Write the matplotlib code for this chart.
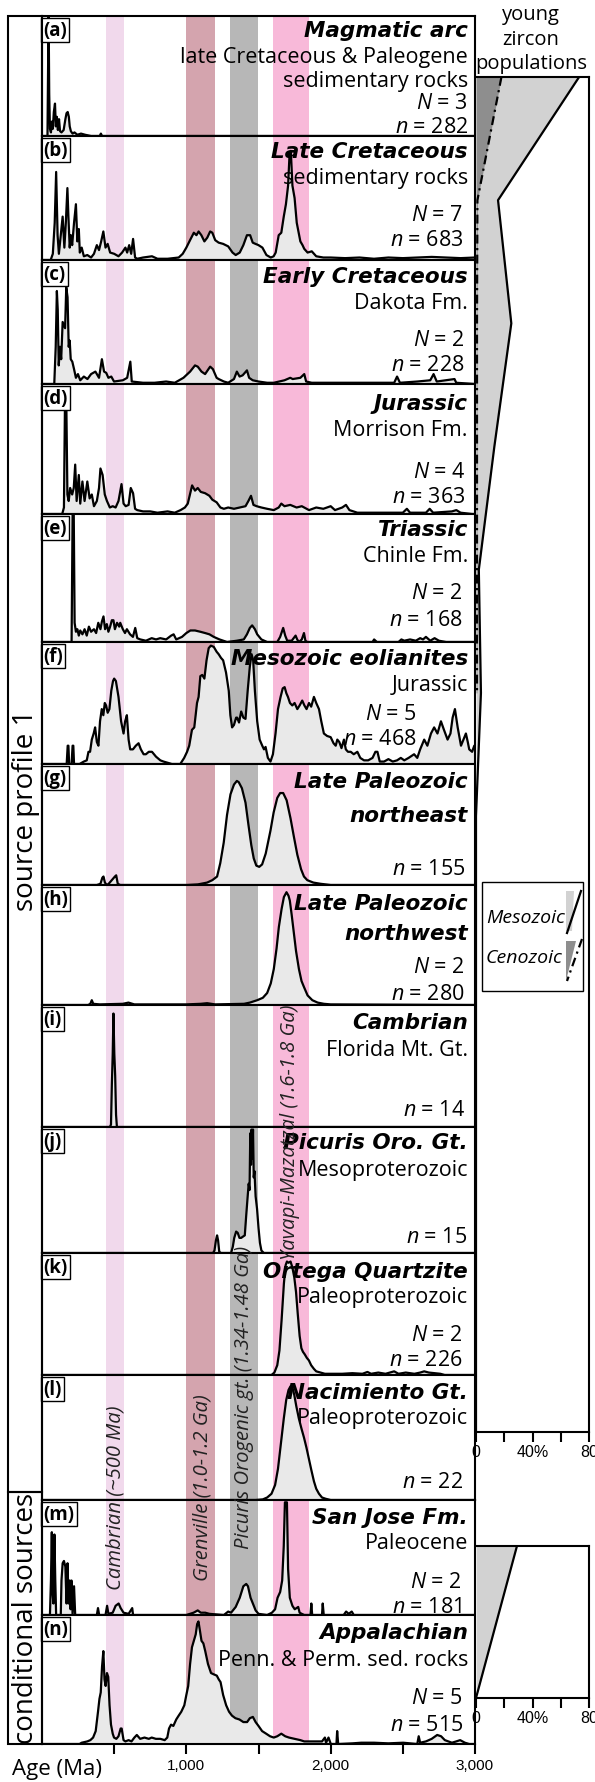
import matplotlib
matplotlib.use("Agg")
import matplotlib.pyplot as plt
from matplotlib.patches import Rectangle, Polygon

plt.rcParams['font.family'] = ['Open Sans', 'DejaVu Sans']
plt.rcParams['mathtext.fontset'] = 'custom'
plt.rcParams['mathtext.rm'] = 'Open Sans'
plt.rcParams['mathtext.it'] = 'Open Sans:italic'

# ---------------------------------------------------------------------------
# Data (age in Ma, relative probability 0-1 per panel)
# ---------------------------------------------------------------------------
panel_ids = ['a', 'b', 'c', 'd', 'e', 'f', 'g', 'h', 'i', 'j', 'k', 'l', 'm', 'n']

titles = [["Magmatic arc"], ["Late Cretaceous"], ["Early Cretaceous"], ["Jurassic"],
          ["Triassic"], ["Mesozoic eolianites"], ["Late Paleozoic", "northeast"],
          ["Late Paleozoic", "northwest"], ["Cambrian"], ["Picuris Oro. Gt."],
          ["Ortega Quartzite"], ["Nacimiento Gt."], ["San Jose Fm."], ["Appalachian"]]
subtitles = [["late Cretaceous & Paleogene", "sedimentary rocks"], ["sedimentary rocks"],
             ["Dakota Fm."], ["Morrison Fm."], ["Chinle Fm."], ["Jurassic"], [], [],
             ["Florida Mt. Gt."], ["Mesoproterozoic"], ["Paleoproterozoic"],
             ["Paleoproterozoic"], ["Paleocene"], ["Penn. & Perm. sed. rocks"]]
N_counts = [3, 7, 2, 4, 2, 5, None, 2, None, None, 2, None, 2, 5]
n_counts = [282, 683, 228, 363, 168, 468, 155, 280, 14, 15, 226, 22, 181, 515]

band_names = ["Cambrian (~500 Ma)", "Grenville (1.0-1.2 Ga)",
              "Picuris Orogenic gt. (1.34-1.48 Ga)", "Yavapi-Mazatzal (1.6-1.8 Ga)"]
band_lo = [440, 1000, 1300, 1600]
band_hi = [570, 1200, 1500, 1850]

magmatic_arc = [(0, 0), (38, 0), (42, 0.55), (46, 1.0), (50, 0.35), (55, 0.06), (62, 0.03),
                (68, 0.12), (75, 0.06), (82, 0.2), (90, 0.27), (96, 0.08), (103, 0.16),
                (110, 0.05), (118, 0.14), (125, 0.04), (135, 0.03), (150, 0.05), (162, 0.14),
                (170, 0.19), (178, 0.2), (186, 0.16), (192, 0.08), (200, 0.04), (212, 0.02),
                (225, 0.03), (245, 0.01), (270, 0.02), (300, 0.01), (340, 0), (400, 0),
                (408, 0.02), (416, 0), (500, 0), (3000, 0)]
late_cretaceous = [(0, 0), (60, 0), (75, 0.05), (88, 0.3), (98, 0.71), (108, 0.2), (117, 0.05),
                   (130, 0.2), (143, 0.35), (155, 0.1), (165, 0.3), (176, 0.58), (183, 0.35),
                   (192, 0.1), (200, 0.2), (209, 0.12), (222, 0.3), (235, 0.45), (245, 0.15),
                   (255, 0.25), (262, 0.06), (275, 0.1), (290, 0.03), (314, 0.04), (340, 0.02),
                   (360, 0.05), (380, 0.12), (395, 0.08), (410, 0.15), (425, 0.23), (440, 0.1),
                   (455, 0.13), (472, 0.06), (500, 0.05), (530, 0.03), (555, 0.06), (578, 0.1),
                   (590, 0.06), (604, 0.12), (618, 0.05), (631, 0.17), (645, 0.02), (660, 0.01),
                   (700, 0.02), (762, 0.03), (800, 0.01), (870, 0.01), (947, 0.02), (975, 0.05),
                   (1000, 0.1), (1030, 0.17), (1052, 0.22), (1070, 0.2), (1085, 0.23),
                   (1104, 0.2), (1125, 0.15), (1145, 0.18), (1165, 0.23), (1180, 0.22),
                   (1200, 0.16), (1224, 0.14), (1255, 0.13), (1290, 0.11), (1320, 0.06),
                   (1342, 0.04), (1370, 0.06), (1395, 0.12), (1420, 0.2), (1442, 0.2),
                   (1460, 0.14), (1479, 0.13), (1500, 0.12), (1527, 0.1), (1555, 0.04),
                   (1585, 0.02), (1605, 0.03), (1619, 0.06), (1640, 0.2), (1658, 0.22),
                   (1675, 0.35), (1690, 0.45), (1705, 0.6), (1715, 0.85), (1724, 0.88),
                   (1735, 0.6), (1750, 0.5), (1765, 0.3), (1790, 0.15), (1805, 0.12),
                   (1817, 0.09), (1840, 0.06), (1869, 0.07), (1900, 0.03), (1949, 0.02),
                   (2000, 0.02), (2100, 0.015), (2200, 0.02), (2300, 0.01), (2400, 0.02),
                   (2500, 0.015), (2600, 0.02), (2700, 0.025), (2800, 0.02), (2900, 0.015),
                   (3000, 0.02)]
early_cretaceous = [(0, 0), (85, 0), (95, 0.3), (103, 0.75), (109, 0.6), (116, 0.15), (125, 0.3),
                    (133, 0.2), (143, 0.5), (160, 0.45), (168, 0.78), (177, 0.7), (185, 0.3),
                    (192, 0.35), (199, 0.2), (210, 0.18), (222, 0.12), (235, 0.05), (249, 0.08),
                    (265, 0.03), (290, 0.06), (315, 0.04), (340, 0.08), (370, 0.1), (395, 0.05),
                    (415, 0.2), (430, 0.1), (445, 0.09), (460, 0.05), (480, 0.06), (499, 0.02),
                    (560, 0.03), (590, 0.05), (612, 0.18), (622, 0.02), (700, 0.01), (780, 0.01),
                    (860, 0.02), (920, 0.01), (980, 0.05), (1026, 0.1), (1060, 0.15),
                    (1079, 0.14), (1105, 0.1), (1130, 0.08), (1165, 0.14), (1184, 0.12),
                    (1210, 0.05), (1224, 0.04), (1260, 0.02), (1290, 0.01), (1330, 0.04),
                    (1350, 0.1), (1369, 0.06), (1390, 0.07), (1420, 0.11), (1435, 0.05),
                    (1460, 0.03), (1500, 0.02), (1560, 0.01), (1606, 0.01), (1680, 0.03),
                    (1720, 0.05), (1737, 0.04), (1790, 0.05), (1817, 0.08), (1830, 0.02),
                    (1869, 0.01), (1950, 0.01), (2100, 0.01), (2300, 0.01), (2440, 0.01),
                    (2460, 0.06), (2480, 0.01), (2600, 0.02), (2690, 0.03), (2713, 0.08),
                    (2735, 0.02), (2858, 0.04), (2870, 0.01), (3000, 0)]
jurassic = [(0, 0), (140, 0), (152, 0.05), (160, 0.95), (168, 0.9), (176, 0.15), (185, 0.1),
            (195, 0.2), (209, 0.15), (220, 0.2), (230, 0.38), (240, 0.1), (255, 0.3), (265, 0.08),
            (280, 0.25), (295, 0.1), (314, 0.25), (330, 0.12), (345, 0.15), (360, 0.06),
            (380, 0.1), (395, 0.2), (405, 0.35), (420, 0.3), (435, 0.15), (450, 0.1), (470, 0.05),
            (490, 0.06), (510, 0.05), (530, 0.1), (551, 0.23), (565, 0.08), (580, 0.06),
            (600, 0.07), (615, 0.2), (631, 0.16), (645, 0.04), (660, 0.03), (700, 0.02),
            (750, 0.02), (800, 0.01), (870, 0.02), (920, 0.01), (960, 0.03), (990, 0.05),
            (1010, 0.08), (1040, 0.22), (1060, 0.18), (1079, 0.2), (1100, 0.17), (1130, 0.16),
            (1160, 0.14), (1180, 0.11), (1210, 0.09), (1236, 0.05), (1260, 0.04), (1290, 0.05),
            (1330, 0.04), (1370, 0.05), (1410, 0.06), (1430, 0.1), (1448, 0.14), (1465, 0.07),
            (1487, 0.06), (1520, 0.05), (1560, 0.04), (1606, 0.03), (1640, 0.05), (1658, 0.08),
            (1680, 0.06), (1720, 0.07), (1764, 0.05), (1800, 0.06), (1850, 0.03), (1900, 0.05),
            (1949, 0.04), (2000, 0.06), (2030, 0.03), (2080, 0.05), (2106, 0.07), (2130, 0.03),
            (2185, 0.01), (2300, 0.01), (2500, 0.01), (2528, 0.04), (2550, 0.01), (2660, 0.01),
            (2686, 0.04), (2710, 0.01), (2840, 0.02), (2871, 0.03), (2900, 0.01), (2980, 0),
            (3000, 0)]
triassic = [(0, 0), (205, 0), (212, 1.0), (220, 1.0), (226, 0.15), (235, 0.08), (245, 0.1),
            (255, 0.05), (265, 0.09), (280, 0.06), (295, 0.1), (310, 0.05), (325, 0.12),
            (340, 0.08), (360, 0.1), (375, 0.07), (390, 0.15), (405, 0.1), (415, 0.16),
            (426, 0.2), (437, 0.1), (449, 0.14), (460, 0.08), (472, 0.12), (484, 0.17),
            (495, 0.17), (505, 0.1), (520, 0.15), (535, 0.12), (542, 0.15), (560, 0.1),
            (575, 0.07), (588, 0.1), (610, 0.06), (630, 0.04), (646, 0.11), (660, 0.03),
            (681, 0.02), (720, 0.01), (760, 0.03), (790, 0.02), (819, 0.03), (860, 0.02),
            (895, 0.05), (912, 0.06), (930, 0.02), (970, 0.04), (1000, 0.07), (1028, 0.09),
            (1060, 0.09), (1097, 0.08), (1130, 0.07), (1160, 0.06), (1190, 0.04), (1230, 0.02),
            (1282, 0), (1350, 0.01), (1398, 0.02), (1420, 0.06), (1440, 0.11), (1456, 0.13),
            (1475, 0.1), (1491, 0.06), (1520, 0.02), (1560, 0), (1630, 0), (1650, 0.04),
            (1671, 0.11), (1685, 0.05), (1699, 0.01), (1730, 0.01), (1757, 0.05), (1768, 0.02),
            (1780, 0), (1800, 0.02), (1815, 0.07), (1825, 0.01), (1838, 0), (2290, 0),
            (2301, 0.02), (2320, 0), (2470, 0), (2490, 0.02), (2510, 0.01), (2550, 0.02),
            (2590, 0.01), (2620, 0.03), (2640, 0.02), (2660, 0.04), (2690, 0.01), (2720, 0.03),
            (2750, 0.01), (2800, 0), (3000, 0)]
eolianites = [(0, 0), (171, 0), (178, 0.15), (183, 0.15), (188, 0), (205, 0), (212, 0.15),
              (217, 0.15), (222, 0), (260, 0), (290, 0.02), (310, 0.03), (322, 0.1), (333, 0.1),
              (345, 0.2), (358, 0.25), (368, 0.3), (380, 0.18), (391, 0.15), (402, 0.35),
              (414, 0.45), (425, 0.4), (435, 0.5), (444, 0.48), (455, 0.42), (467, 0.45),
              (480, 0.6), (492, 0.68), (500, 0.7), (512, 0.68), (530, 0.55), (548, 0.35),
              (565, 0.25), (576, 0.35), (588, 0.4), (600, 0.2), (611, 0.12), (630, 0.12),
              (650, 0.15), (669, 0.17), (685, 0.12), (704, 0.08), (720, 0.08), (740, 0.1),
              (762, 0.1), (790, 0.06), (820, 0.03), (842, 0.02), (900, 0), (958, 0), (985, 0.05),
              (1005, 0.1), (1020, 0.15), (1039, 0.28), (1055, 0.3), (1074, 0.5), (1085, 0.55),
              (1097, 0.72), (1110, 0.73), (1125, 0.7), (1140, 0.85), (1155, 0.95), (1170, 0.97),
              (1190, 0.96), (1210, 0.92), (1224, 0.9), (1240, 0.87), (1255, 0.85), (1275, 0.75),
              (1294, 0.6), (1305, 0.4), (1317, 0.3), (1330, 0.32), (1345, 0.38), (1352, 0.38),
              (1365, 0.34), (1380, 0.43), (1395, 0.38), (1410, 0.37), (1425, 0.6), (1440, 0.8),
              (1452, 0.9), (1463, 0.85), (1475, 0.6), (1491, 0.35), (1508, 0.2), (1526, 0.15),
              (1538, 0.12), (1549, 0.14), (1565, 0.05), (1583, 0.02), (1600, 0.08), (1618, 0.25),
              (1635, 0.45), (1653, 0.55), (1668, 0.62), (1681, 0.63), (1693, 0.58), (1704, 0.55),
              (1718, 0.5), (1734, 0.48), (1750, 0.5), (1769, 0.45), (1785, 0.48), (1803, 0.52),
              (1818, 0.48), (1833, 0.45), (1850, 0.5), (1865, 0.47), (1884, 0.55), (1900, 0.5),
              (1919, 0.45), (1935, 0.35), (1953, 0.25), (1975, 0.23), (2000, 0.22), (2020, 0.17),
              (2035, 0.15), (2046, 0.2), (2060, 0.18), (2075, 0.13), (2092, 0.2), (2105, 0.12),
              (2120, 0.1), (2139, 0.1), (2160, 0.08), (2185, 0.1), (2205, 0.05), (2231, 0.03),
              (2260, 0.03), (2290, 0.05), (2310, 0.1), (2324, 0.1), (2340, 0.02), (2370, 0.02),
              (2400, 0.04), (2430, 0.02), (2460, 0.03), (2486, 0.05), (2510, 0.03), (2540, 0.05),
              (2578, 0.08), (2600, 0.05), (2620, 0.12), (2648, 0.2), (2670, 0.15), (2695, 0.25),
              (2717, 0.3), (2740, 0.25), (2764, 0.35), (2785, 0.28), (2810, 0.2), (2830, 0.25),
              (2845, 0.38), (2861, 0.45), (2880, 0.3), (2903, 0.15), (2920, 0.2), (2937, 0.25),
              (2950, 0.18), (2960, 0.12), (2980, 0.1), (2995, 0.15), (3000, 0.15)]
paleozoic_ne = [(0, 0), (380, 0), (405, 0.01), (418, 0.06), (426, 0.07), (436, 0.02), (449, 0),
                (462, 0.01), (505, 0.07), (514, 0.08), (525, 0.01), (542, 0), (1005, 0),
                (1080, 0.005), (1144, 0.02), (1180, 0.04), (1213, 0.07), (1235, 0.18),
                (1259, 0.35), (1282, 0.58), (1306, 0.75), (1330, 0.83), (1350, 0.86),
                (1363, 0.85), (1385, 0.8), (1410, 0.68), (1430, 0.5), (1450, 0.33), (1467, 0.22),
                (1485, 0.16), (1505, 0.15), (1525, 0.17), (1550, 0.26), (1583, 0.45),
                (1605, 0.6), (1630, 0.72), (1650, 0.76), (1671, 0.76), (1695, 0.7), (1722, 0.55),
                (1745, 0.4), (1769, 0.25), (1795, 0.13), (1815, 0.07), (1838, 0.04),
                (1880, 0.02), (1930, 0.01), (2000, 0), (3000, 0)]
paleozoic_nw = [(0, 0), (320, 0), (335, 0.01), (345, 0.04), (355, 0.01), (400, 0.005),
                (560, 0.01), (599, 0.02), (640, 0.005), (1000, 0.005), (1100, 0.01),
                (1144, 0.015), (1200, 0.005), (1400, 0.01), (1440, 0.02), (1491, 0.04),
                (1530, 0.06), (1560, 0.1), (1585, 0.18), (1606, 0.3), (1625, 0.47), (1641, 0.65),
                (1660, 0.8), (1676, 0.9), (1694, 0.94), (1708, 0.91), (1717, 0.87), (1730, 0.75),
                (1745, 0.6), (1760, 0.45), (1780, 0.3), (1798, 0.2), (1815, 0.15), (1840, 0.08),
                (1873, 0.04), (1910, 0.02), (1953, 0.01), (2000, 0.005), (3000, 0)]
cambrian = [(0, 0), (470, 0), (478, 0.02), (484, 0.35), (490, 0.6), (495, 0.93), (501, 0.6),
            (507, 0.42), (513, 0.1), (519, 0), (3000, 0)]
picuris = [(0, 0), (1185, 0), (1195, 0.02), (1205, 0.1), (1213, 0.14), (1220, 0.1), (1228, 0.01),
           (1240, 0), (1310, 0), (1322, 0.05), (1332, 0.12), (1345, 0.17), (1356, 0.16),
           (1368, 0.12), (1380, 0.12), (1392, 0.13), (1405, 0.14), (1415, 0.3), (1425, 0.45),
           (1432, 0.55), (1438, 0.5), (1443, 0.95), (1448, 0.7), (1452, 0.98), (1457, 0.75),
           (1462, 0.98), (1467, 0.6), (1472, 0.65), (1480, 0.45), (1490, 0.35), (1500, 0.2),
           (1510, 0.08), (1520, 0.02), (1537, 0), (3000, 0)]
ortega = [(0, 0), (1590, 0), (1610, 0.02), (1630, 0.08), (1645, 0.2), (1660, 0.45), (1676, 0.75),
          (1688, 0.9), (1697, 0.93), (1708, 0.92), (1722, 0.93), (1735, 0.88), (1748, 0.8),
          (1760, 0.68), (1772, 0.5), (1785, 0.32), (1797, 0.22), (1808, 0.19), (1820, 0.17),
          (1835, 0.14), (1849, 0.12), (1865, 0.08), (1884, 0.05), (1900, 0.03), (1930, 0.02),
          (1960, 0.01), (2080, 0.01), (2150, 0.015), (2220, 0.01), (2255, 0.025), (2280, 0.01),
          (2330, 0.02), (2380, 0.01), (2440, 0.03), (2470, 0.01), (2520, 0.02), (2580, 0.01),
          (2620, 0.02), (2648, 0.03), (2680, 0.02), (2720, 0.015), (2760, 0.01), (2790, 0),
          (3000, 0)]
nacimiento = [(0, 0), (1480, 0), (1530, 0.005), (1560, 0.02), (1590, 0.05), (1615, 0.12),
              (1635, 0.25), (1655, 0.45), (1675, 0.65), (1692, 0.8), (1708, 0.88), (1722, 0.91),
              (1735, 0.9), (1748, 0.84), (1762, 0.75), (1780, 0.65), (1798, 0.57), (1815, 0.5),
              (1832, 0.42), (1849, 0.33), (1866, 0.24), (1884, 0.15), (1900, 0.09), (1919, 0.05),
              (1940, 0.02), (1965, 0.01), (2000, 0), (3000, 0)]
san_jose = [(0, 0), (55, 0), (62, 0.3), (68, 0.72), (73, 0.2), (79, 0.1), (86, 0.7), (92, 0.3),
            (98, 0), (130, 0), (135, 0.3), (143, 0.45), (152, 0.47), (162, 0.42), (170, 0.1),
            (177, 0.45), (184, 0.1), (191, 0.3), (198, 0.05), (204, 0.3), (212, 0), (222, 0.25),
            (230, 0), (380, 0), (388, 0.06), (396, 0), (440, 0), (451, 0.08), (460, 0.01),
            (490, 0.02), (510, 0.08), (531, 0.1), (545, 0.06), (565, 0.02), (600, 0.01),
            (625, 0.06), (631, 0), (1000, 0), (1050, 0.02), (1079, 0.04), (1100, 0.02),
            (1131, 0.02), (1160, 0.01), (1260, 0), (1290, 0.03), (1310, 0.02), (1342, 0.07),
            (1370, 0.15), (1395, 0.25), (1415, 0.27), (1427, 0.25), (1445, 0.15), (1461, 0.1),
            (1480, 0.04), (1500, 0.01), (1560, 0), (1593, 0.02), (1615, 0.05), (1632, 0.15),
            (1650, 0.2), (1664, 0.3), (1675, 0.6), (1683, 0.98), (1690, 0.98), (1697, 0.98),
            (1705, 0.4), (1717, 0.15), (1735, 0.08), (1751, 0.05), (1775, 0.07), (1785, 0.02),
            (1800, 0.01), (1817, 0), (1860, 0), (1866, 0.1), (1872, 0), (1940, 0), (1945, 0.1),
            (1952, 0), (2090, 0), (2107, 0.03), (2125, 0.01), (2146, 0.03), (2160, 0), (3000, 0)]
appalachian = [(0, 0), (260, 0), (275, 0.01), (314, 0.02), (335, 0.03), (354, 0.05), (372, 0.1),
               (388, 0.25), (398, 0.35), (407, 0.4), (416, 0.6), (425, 0.72), (433, 0.5),
               (441, 0.45), (450, 0.55), (459, 0.52), (468, 0.3), (478, 0.15), (490, 0.08),
               (499, 0.05), (515, 0.04), (530, 0.06), (545, 0.12), (552, 0.12), (565, 0.03),
               (578, 0.02), (600, 0.03), (620, 0.02), (640, 0.05), (657, 0.07), (680, 0.04),
               (710, 0.05), (740, 0.04), (760, 0.05), (789, 0.04), (820, 0.04), (850, 0.03),
               (868, 0.05), (880, 0.12), (894, 0.15), (910, 0.14), (930, 0.19), (947, 0.22),
               (965, 0.25), (986, 0.3), (1000, 0.38), (1013, 0.45), (1026, 0.62), (1039, 0.75),
               (1052, 0.8), (1065, 0.85), (1075, 0.93), (1084, 0.95), (1094, 0.88), (1105, 0.8),
               (1118, 0.78), (1131, 0.72), (1150, 0.62), (1171, 0.55), (1190, 0.54),
               (1211, 0.53), (1225, 0.5), (1237, 0.48), (1255, 0.38), (1276, 0.3), (1296, 0.25),
               (1316, 0.22), (1340, 0.2), (1368, 0.19), (1395, 0.17), (1421, 0.17), (1440, 0.2),
               (1461, 0.21), (1480, 0.17), (1500, 0.14), (1525, 0.1), (1553, 0.08), (1580, 0.06),
               (1606, 0.05), (1630, 0.06), (1658, 0.08), (1685, 0.06), (1711, 0.05), (1750, 0.04),
               (1790, 0.03), (1817, 0.02), (1880, 0.02), (1940, 0.02), (1960, 0.05), (1968, 0.01),
               (1985, 0.05), (2001, 0), (2040, 0), (2045, 0.1), (2052, 0), (2150, 0.005),
               (2212, 0.01), (2300, 0.01), (2400, 0.005), (2502, 0.01), (2600, 0), (2610, 0.06),
               (2620, 0.01), (2660, 0.02), (2700, 0.04), (2738, 0.07), (2765, 0.06), (2791, 0.03),
               (2840, 0.01), (2870, 0.02), (2897, 0.03), (2930, 0.01), (2960, 0), (3000, 0)]

curves = [magmatic_arc, late_cretaceous, early_cretaceous, jurassic, triassic, eolianites,
          paleozoic_ne, paleozoic_nw, cambrian, picuris, ortega, nacimiento, san_jose, appalachian]

# young zircon populations (%), source profile panels a-l and conditional panels m-n
young_meso_src = [73, 15.6, 25, 13, 2, 3.5, 0, 0, 0, 0, 0, 0]
young_ceno_src = [18, 1, 0.7, 0.7, 0.7, 0.7]
young_meso_cond = [29, 0]

# ---------------------------------------------------------------------------
# layout (pixels)
# ---------------------------------------------------------------------------
W, H = 595, 1783
X0, X1 = 42, 475
panel_edges = [17, 137, 261, 385, 515, 643, 765, 886, 1006, 1128, 1254, 1376, 1501, 1616, 1745]
# text baselines below each panel top
text_y = [[20, 46, 70, 92, 116], [21, 47, 84, 109], [22, 48, 85, 110], [25, 51, 93, 118],
          [21, 47, 84, 111], [22, 48, 77, 102], [23, 57, 110], [24, 54, 87, 114],
          [23, 50, 110], [21, 48, 115], [24, 49, 87, 112], [23, 48, 112], [23, 48, 87, 112],
          [23, 50, 88, 115]]
count_x = [468, 463, 465, 465, 463, 417, 465, 465, 465, 467, 463, 463, 462, 463]
title_x = 468
band_colors = ['#f1d9ec', '#d4a4ae', '#b7b7b7', '#f8b9d9']
band_label_age = [512, 1110, 1400, 1715]
band_label_y = [1498, 1488, 1397, 1132]
fill_col = '#e9e9e9'
narrow = ['Liberation Sans Narrow', 'Liberation Sans', 'DejaVu Sans']

fig = plt.figure(figsize=(W / 100, H / 100), dpi=100)


def px_axes(x0, y0, x1, y1):
    return fig.add_axes([x0 / W, 1 - y1 / H, (x1 - x0) / W, (y1 - y0) / H])


def age_px(age):
    return X0 + age * (X1 - X0) / 3000.0


for i, pid in enumerate(panel_ids):
    top, bot = panel_edges[i], panel_edges[i + 1]
    hgt = bot - top
    ax = px_axes(X0, top, X1, bot)
    ax.set_xlim(0, 3000)
    ax.set_ylim(0, 1)
    for lo, hi, col in zip(band_lo, band_hi, band_colors):
        ax.axvspan(lo, hi, color=col, lw=0, zorder=0)
    ages = [p[0] for p in curves[i]]
    vals = [p[1] for p in curves[i]]
    ax.fill_between(ages, vals, 0, color=fill_col, lw=0, zorder=1)
    ax.plot(ages, vals, color='k', lw=1.6, zorder=2, solid_joinstyle='round')
    for sp in ax.spines.values():
        sp.set_linewidth(1.5)
    ax.set_yticks([])
    if i < len(panel_ids) - 1:
        ax.set_xticks([])
    else:
        ax.set_xticks([500, 1000, 1500, 2000, 2500, 3000])
        ax.set_xticklabels(['', '1,000', '', '2,000', '', '3,000'], fontsize=11, family=narrow)
        ax.tick_params(axis='x', direction='out', length=7, width=1.5, pad=3)

    # panel letter box
    ax.text(0.003, 1 - 4 / hgt, '(%s)' % pid, transform=ax.transAxes, ha='left', va='top',
            fontsize=13.5, fontweight='bold', zorder=5,
            bbox=dict(boxstyle='square,pad=0.12', fc='white', ec='black', lw=1.0))

    lines = [(t, 'title') for t in titles[i]] + [(s, 'sub') for s in subtitles[i]]
    if N_counts[i] is not None:
        lines.append((r'$N$ = %d' % N_counts[i], 'count'))
    lines.append((r'$n$ = %d' % n_counts[i], 'count'))
    for (txt, kind), off in zip(lines, text_y[i]):
        yf = 1 - off / hgt
        if kind == 'title':
            ax.text((title_x - X0) / (X1 - X0), yf, txt, transform=ax.transAxes, ha='right',
                    va='baseline', fontsize=15.5, fontweight='bold', fontstyle='italic',
                    family='DejaVu Sans', zorder=4)
        elif kind == 'sub':
            ax.text((title_x - X0) / (X1 - X0), yf, txt, transform=ax.transAxes, ha='right',
                    va='baseline', fontsize=15.5, zorder=4)
        else:
            ax.text((count_x[i] - X0) / (X1 - X0), yf, txt, transform=ax.transAxes, ha='right',
                    va='baseline', fontsize=15.5, zorder=4)

# young zircon population panels
for (y0, y1, meso, ceno) in [(78, 1433, young_meso_src, young_ceno_src),
                             (1547, 1699, young_meso_cond, None)]:
    axr = px_axes(476, y0, 589, y1)
    ypos = list(range(len(meso)))
    axr.set_xlim(0, 80)
    axr.set_ylim(len(meso) - 1, 0)
    axr.fill_betweenx(ypos, 0, meso, color='#d2d2d2', lw=0, zorder=1)
    axr.plot(meso, ypos, color='k', lw=1.6, zorder=3)
    if ceno is not None:
        axr.fill_betweenx(ypos[:len(ceno)], 0, ceno, color='#8e8e8e', lw=0, zorder=2)
        axr.plot(ceno, ypos[:len(ceno)], color='k', lw=1.6, ls=(0, (4, 2, 1, 2)), zorder=3)
    axr.spines['left'].set_visible(False)
    for sp in ['top', 'right', 'bottom']:
        axr.spines[sp].set_linewidth(1.5)
    axr.set_yticks([])
    axr.set_xticks([0, 20, 40, 60, 80])
    axr.set_xticklabels(['0', '', '40%', '', '80'], fontsize=11.5, family=narrow)
    axr.tick_params(axis='x', direction='out', length=7, width=1.5, pad=2)

# overlay in pixel coordinates for frames and free text
ov = fig.add_axes([0, 0, 1, 1])
ov.set_xlim(0, W)
ov.set_ylim(H, 0)
ov.axis('off')
ov.set_zorder(10)

ov.add_patch(Rectangle((8, 17), X0 - 8, 1493 - 17, fill=False, lw=1.5, ec='k'))
ov.add_patch(Rectangle((8, 1493), X0 - 8, panel_edges[-1] - 1493, fill=False, lw=1.5, ec='k'))
ov.text(26, 810, 'source profile 1', rotation=90, ha='center', va='center', fontsize=20)
ov.text(26, 1618, 'conditional sources', rotation=90, ha='center', va='center', fontsize=20)

for name, age, yc in zip(band_names, band_label_age, band_label_y):
    ov.text(age_px(age), yc, name, rotation=90, ha='center', va='center', fontsize=14.6,
            fontstyle='italic', color='#222222')

for txt, yc in zip(['young', 'zircon', 'populations'], [15, 40, 64]):
    ov.text(531, yc, txt, ha='center', va='center', fontsize=14.5)

ov.text(12, 1770, 'Age (Ma)', ha='left', va='center', fontsize=16)

# legend for young zircon panel
ov.add_patch(Rectangle((482, 883), 101, 109, fc='white', ec='k', lw=1.0))
ov.text(486, 918, 'Mesozoic', ha='left', va='center', fontsize=14, fontstyle='italic')
ov.text(486, 958, 'Cenozoic', ha='left', va='center', fontsize=14, fontstyle='italic')
ov.add_patch(Polygon([(566, 892), (574, 892), (572, 932), (566, 932)], fc='#d2d2d2', lw=0))
ov.plot([581, 567], [892, 934], color='k', lw=1.6)
ov.add_patch(Polygon([(566, 942), (576, 942), (566, 982)], fc='#8e8e8e', lw=0))
ov.plot([582, 567], [940, 982], color='k', lw=1.6, ls=(0, (4, 2, 1, 2)))

fig.savefig('out.png', dpi=100)
